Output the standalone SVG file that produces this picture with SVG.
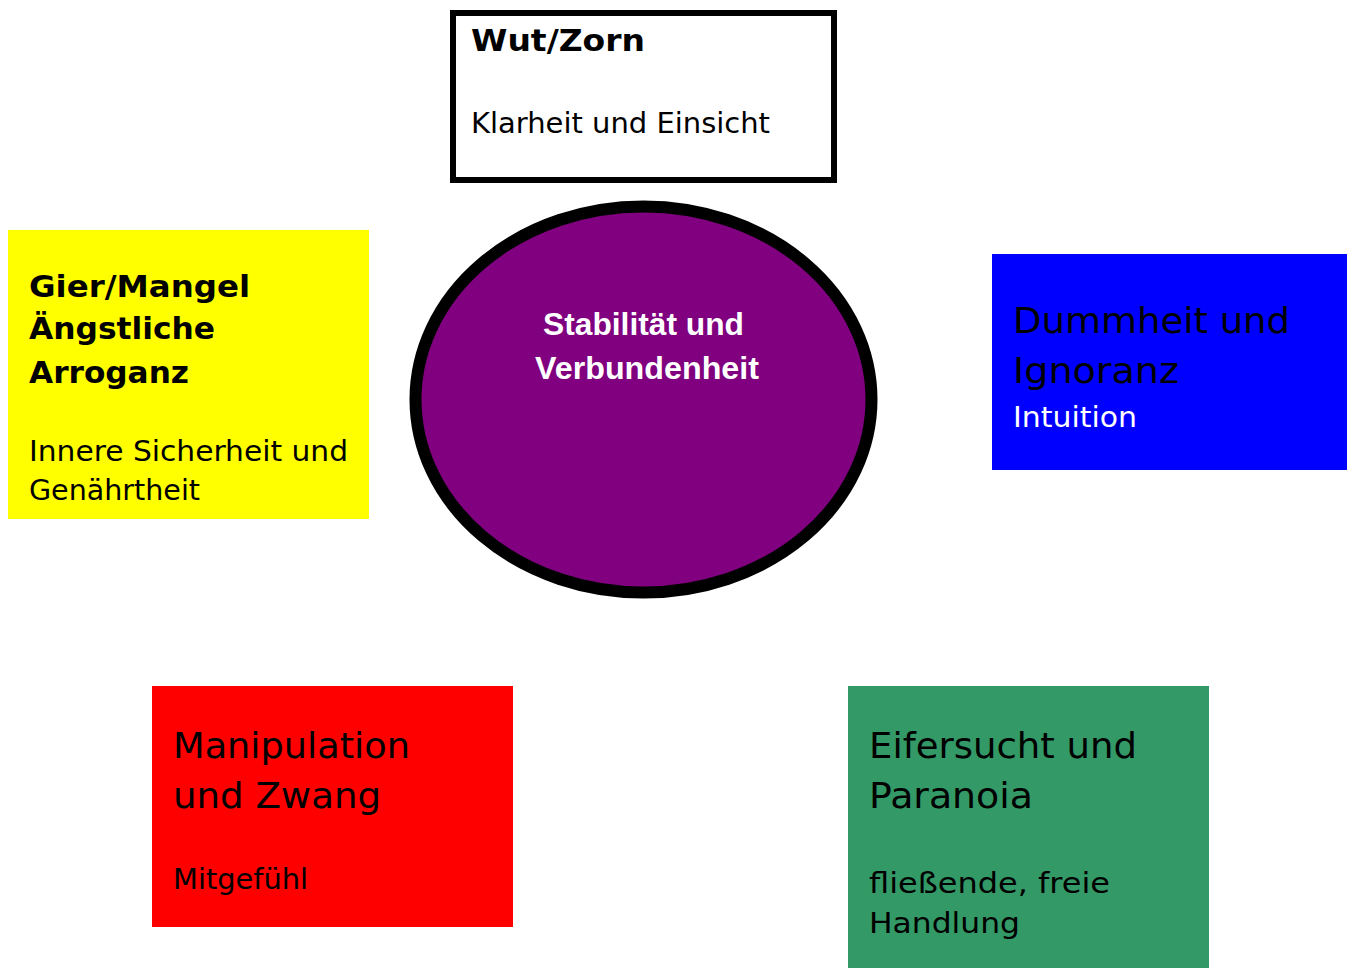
<svg xmlns="http://www.w3.org/2000/svg" width="1347" height="968" viewBox="0 0 1347 968">
<style>
.t{font-family:"DejaVu Sans","Verdana",sans-serif;fill:#000}
.b{font-weight:bold;font-size:31px}
.s{font-size:28px}
.l{font-size:36px}
.w{fill:#fff;font-size:29px}
.c{font-family:"Liberation Sans",Arial,sans-serif;font-weight:bold;font-size:31px;fill:#fff}
</style>
<rect width="1347" height="968" fill="#fff"/>
<g id="connectors"></g>
<g id="wut">
<rect x="453" y="13" width="381" height="167" fill="#fff" stroke="#000" stroke-width="6"/>
<text class="t b" x="471" y="51" textLength="174" lengthAdjust="spacingAndGlyphs">Wut/Zorn</text>
<text class="t s" x="471" y="133" textLength="299" lengthAdjust="spacingAndGlyphs">Klarheit und Einsicht</text>
</g>
<g id="gier">
<rect x="8" y="230" width="361" height="289" fill="#ff0"/>
<text class="t b" x="29" y="297" textLength="221" lengthAdjust="spacingAndGlyphs">Gier/Mangel</text>
<text class="t b" x="29" y="339" textLength="186" lengthAdjust="spacingAndGlyphs">Ängstliche</text>
<text class="t b" x="29" y="383" textLength="160" lengthAdjust="spacingAndGlyphs">Arroganz</text>
<text class="t s" x="29" y="461" textLength="319" lengthAdjust="spacingAndGlyphs">Innere Sicherheit und</text>
<text class="t s" x="29" y="500" textLength="171" lengthAdjust="spacingAndGlyphs">Genährtheit</text>
</g>
<g id="center">
<ellipse cx="643.5" cy="399.5" rx="228" ry="193" fill="#800080" stroke="#000" stroke-width="12"/>
<text class="c" x="543" y="335" textLength="201" lengthAdjust="spacingAndGlyphs">Stabilität und</text>
<text class="c" x="535" y="379" textLength="224" lengthAdjust="spacingAndGlyphs">Verbundenheit</text>
</g>
<g id="dummheit">
<rect x="992" y="254" width="355" height="216" fill="#00f"/>
<text class="t l" x="1013" y="333" textLength="277" lengthAdjust="spacingAndGlyphs">Dummheit und</text>
<text class="t l" x="1013" y="383" textLength="166" lengthAdjust="spacingAndGlyphs">Ignoranz</text>
<text class="t w" x="1013" y="427" textLength="124" lengthAdjust="spacingAndGlyphs">Intuition</text>
</g>
<g id="manipulation">
<rect x="152" y="686" width="361" height="241" fill="#f00"/>
<text class="t l" x="173" y="758" textLength="237" lengthAdjust="spacingAndGlyphs">Manipulation</text>
<text class="t l" x="173" y="808" textLength="208" lengthAdjust="spacingAndGlyphs">und Zwang</text>
<text class="t s" x="173" y="889" textLength="135" lengthAdjust="spacingAndGlyphs">Mitgefühl</text>
</g>
<g id="eifersucht">
<rect x="848" y="686" width="361" height="282" fill="#339966"/>
<text class="t l" x="869" y="758" textLength="268" lengthAdjust="spacingAndGlyphs">Eifersucht und</text>
<text class="t l" x="869" y="808" textLength="164" lengthAdjust="spacingAndGlyphs">Paranoia</text>
<text class="t s" x="869" y="893" textLength="241" lengthAdjust="spacingAndGlyphs">fließende, freie</text>
<text class="t s" x="869" y="933" textLength="151" lengthAdjust="spacingAndGlyphs">Handlung</text>
</g>
</svg>
